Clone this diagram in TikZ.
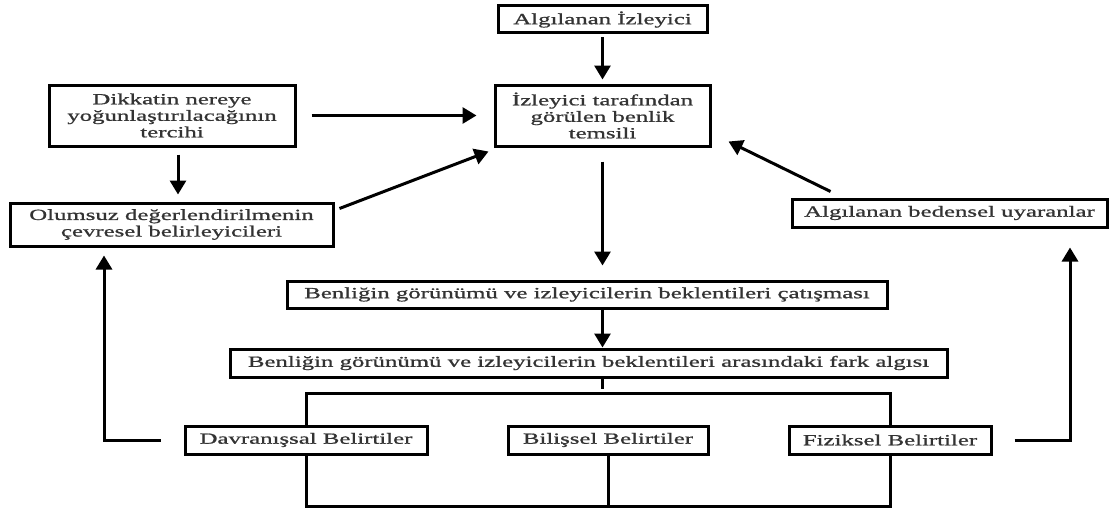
\documentclass[tikz,border=0pt]{standalone}
\usepackage{fontspec}
\setmainfont{Liberation Serif}[FakeStretch=1.6,FakeBold=1]
\usetikzlibrary{arrows.meta}
\begin{document}
\begin{tikzpicture}[x=1pt,y=-1pt,
  box/.style={draw=black, line width=3pt, inner sep=0pt, align=center,
    font=\fontsize{15.5}{16.5}\selectfont, text=black!80},
  arr/.style={line width=3pt, -{Triangle[length=14pt,width=16pt]}},
  ln/.style={line width=3pt}]
\useasboundingbox (0,0) rectangle (1110,511);
\node[box, minimum width=209pt, minimum height=27pt] (b1) at (602.5,19.5) {Algılanan İzleyici};
\node[box, minimum width=215pt, minimum height=61pt] (b2) at (602.5,115.5) {İzleyici tarafından\\görülen benlik\\temsili};
\node[box, minimum width=246pt, minimum height=61pt] (dik) at (172,115.5) {Dikkatin nereye\\yoğunlaştırılacağının\\tercihi};
\node[box, minimum width=323pt, minimum height=43pt] (olu) at (171.5,224.5) {Olumsuz değerlendirilmenin\\çevresel belirleyicileri};
\node[box, minimum width=315pt, minimum height=28pt] (bed) at (949.5,213) {Algılanan bedensel uyaranlar};
\node[box, minimum width=600pt, minimum height=27pt] (b3) at (587,294.5) {Benliğin görünümü ve izleyicilerin beklentileri çatışması};
\node[box, minimum width=717pt, minimum height=28pt] (b4) at (588.5,363) {Benliğin görünümü ve izleyicilerin beklentileri arasındaki fark algısı};
\node[box, minimum width=242pt, minimum height=28pt] (dav) at (306,440) {Davranışsal Belirtiler};
\node[box, minimum width=200pt, minimum height=28pt] (bil) at (608,440) {Bilişsel Belirtiler};
\node[box, minimum width=202pt, minimum height=28pt] (fiz) at (890,440) {Fiziksel Belirtiler};
\coordinate (topbar) at (0,393.5);
\coordinate (botbar) at (0,506);
\coordinate (lx) at (104,0);
\coordinate (rx) at (1070,0);
% arrows
\draw[arr, shorten <=3pt, shorten >=4pt] (b1.south) -- (b2.north);
\draw[arr, shorten <=15pt, shorten >=17pt] (dik.east) -- (b2.west);
\draw[arr, shorten <=7pt, shorten >=7pt] ([xshift=6pt]dik.south) -- ([xshift=6pt]dik.south |- olu.north);
\draw[arr] ([xshift=5pt,yshift=-7pt]olu.north east) -- ([xshift=-5pt,yshift=-4pt]b2.south west);
\draw[arr] ([xshift=40pt,yshift=6pt]bed.north west) -- ([xshift=17pt,yshift=6pt]b2.south east);
\draw[arr, shorten <=14pt, shorten >=14pt] (b2.south) -- (b2.south |- b3.north);
\draw[arr] (b2.south |- b3.south) -- (b2.south |- b4.north);
% tree lines
\draw[ln] (b2.south |- b4.south) -- ([yshift=4.5pt]b2.south |- topbar);
\draw[ln] (dav.north) -- (dav.north |- topbar) -- (fiz.north |- topbar) -- (fiz.north);
\draw[ln] (dav.south) -- (dav.south |- botbar) -- (fiz.south |- botbar) -- (fiz.south);
\draw[ln] (bil.south) -- (bil.south |- botbar);
% return arrows
\draw[arr] ([xshift=-23pt]dav.west) -- (lx |- dav.west) -- ([yshift=-8pt]lx |- olu.south);
\draw[arr] ([xshift=22pt]fiz.east) -- (rx |- fiz.east) -- ([yshift=-19pt]rx |- bed.south);
\end{tikzpicture}
\end{document}
